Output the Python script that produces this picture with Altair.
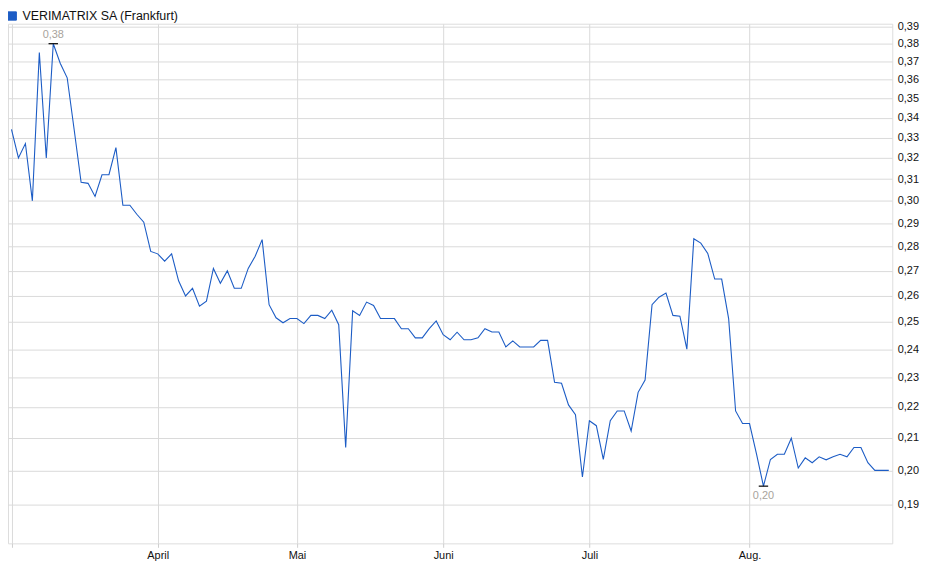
import altair as alt
import pandas as pd

# Daily closing prices (trading days)
march = [0.334, 0.320, 0.327, 0.300, 0.375, 0.320, 0.380, 0.369, 0.361, 0.334, 0.3085,
         0.308, 0.302, 0.312, 0.312, 0.325, 0.298, 0.298, 0.294, 0.2905, 0.278]
april = [0.277, 0.274, 0.277, 0.266, 0.260, 0.263, 0.256, 0.258, 0.271, 0.265, 0.270,
         0.263, 0.263, 0.271, 0.276, 0.283, 0.2566, 0.2516, 0.2497, 0.2513]
mai = [0.2513, 0.2494, 0.2525, 0.2525, 0.2513, 0.2545, 0.2490, 0.2070, 0.2543, 0.2525, 0.2576,
       0.2563, 0.2513, 0.2513, 0.2513, 0.2475, 0.2475, 0.2441, 0.2441, 0.2475, 0.2504]
juni = [0.2453, 0.2434, 0.2462, 0.2434, 0.2434, 0.2441, 0.2475, 0.2463, 0.2463, 0.2408, 0.2430,
        0.2408, 0.2408, 0.2408, 0.2432, 0.2432, 0.2283, 0.2280, 0.2207, 0.2175, 0.1980]
juli = [0.2155, 0.2139, 0.2033, 0.2155, 0.2187, 0.2187, 0.2122, 0.2249, 0.2291, 0.2566, 0.2595,
        0.2611, 0.2525, 0.2522, 0.2400, 0.2834, 0.2815, 0.2772, 0.2667, 0.2667, 0.2513, 0.2187, 0.2146]
aug = [0.2146, 0.2050, 0.1953, 0.2033, 0.2049, 0.2049, 0.2099, 0.2007, 0.2038, 0.2023, 0.2041,
       0.2032, 0.2041, 0.2049, 0.2041, 0.2070, 0.2070, 0.2023, 0.2000, 0.2000, 0.2000]

months = [march, april, mai, juni, juli, aug]
month_labels = ["", "April", "Mai", "Juni", "Juli", "Aug."]
y_ticks = [0.19, 0.20, 0.21, 0.22, 0.23, 0.24, 0.25, 0.26, 0.27, 0.28, 0.29,
           0.30, 0.31, 0.32, 0.33, 0.34, 0.35, 0.36, 0.37, 0.38, 0.39]
series_name = "VERIMATRIX SA (Frankfurt)"

values = []
month_start = []
for m in months:
    month_start.append(len(values))
    values.extend(m)

df = pd.DataFrame({"idx": list(range(len(values))), "value": values, "series": series_name})

imax = df["value"].idxmax()
imin = df["value"].idxmin()
ext = pd.DataFrame({
    "idx": [df.loc[imax, "idx"], df.loc[imin, "idx"]],
    "value": [df.loc[imax, "value"], df.loc[imin, "value"]],
    "kind": ["max", "min"],
})
ext["label"] = ext["value"].map(lambda v: f"{v:.2f}".replace(".", ","))

# label expression for the month ticks
expr = "''"
for s, lab in zip(reversed(month_start), reversed(month_labels)):
    expr = f"datum.value == {s} ? '{lab}' : ({expr})"

FONT = "Liberation Sans"
LINE = "#1c5cc5"
GRID = "#dadada"

x_scale = alt.Scale(domain=[-0.5, len(values) - 0.5], nice=False, zero=False)
y_scale = alt.Scale(type="log", domain=[0.1792, 0.3916], nice=False, zero=False)

x_enc = alt.X("idx:Q", scale=x_scale, title=None,
              axis=alt.Axis(values=month_start, labelExpr=expr, grid=True, gridColor=GRID,
                            domain=False, tickColor="#cfcfcf", tickSize=4, labelPadding=2,
                            labelFont=FONT, labelFontSize=11, labelColor="#111",
                            labelFlush=False, labelOverlap=False))
y_enc = alt.Y("value:Q", scale=y_scale, title=None,
              axis=alt.Axis(orient="right", values=y_ticks,
                            labelExpr="replace(format(datum.value, '.2f'), '.', ',')",
                            grid=True, gridColor=GRID, domain=False, ticks=False,
                            labelPadding=5, labelFont=FONT, labelFontSize=11,
                            labelColor="#111", labelOverlap=False))

line = alt.Chart(df).mark_line(strokeWidth=1.1, interpolate="linear").encode(
    x=x_enc,
    y=y_enc,
    color=alt.Color("series:N", scale=alt.Scale(range=[LINE]),
                    legend=alt.Legend(title=None, orient="none", legendX=-2, legendY=-14,
                                      symbolType="square", symbolFillColor=LINE,
                                      symbolStrokeColor="#0b2a66", symbolStrokeWidth=1,
                                      symbolSize=70, labelFont=FONT, labelFontSize=12.5,
                                      labelColor="#111", padding=0, labelOffset=4)),
)

marks = alt.Chart(ext).mark_point(shape="M-1,0L1,0", size=90, strokeWidth=1.2,
                                  color="black", filled=False, opacity=1).encode(
    x=alt.X("idx:Q", scale=x_scale),
    y=alt.Y("value:Q", scale=y_scale),
)

txt_max = alt.Chart(ext).transform_filter("datum.kind == 'max'").mark_text(
    dy=-9, font=FONT, fontSize=11, color="#a8a39c").encode(
    x=alt.X("idx:Q", scale=x_scale), y=alt.Y("value:Q", scale=y_scale), text="label:N")
txt_min = alt.Chart(ext).transform_filter("datum.kind == 'min'").mark_text(
    dy=10, font=FONT, fontSize=11, color="#a8a39c").encode(
    x=alt.X("idx:Q", scale=x_scale), y=alt.Y("value:Q", scale=y_scale), text="label:N")

chart = alt.layer(line, marks, txt_max, txt_min).properties(
    width=890, height=523,
    autosize=alt.AutoSizeParams(type="none"),
    padding={"left": 0, "top": 14, "right": 40, "bottom": 22},
).configure_view(stroke="#d4d4d4", strokeWidth=1).configure(background="white")

chart.save("out.html", embed_options={"renderer": "svg", "actions": False})
